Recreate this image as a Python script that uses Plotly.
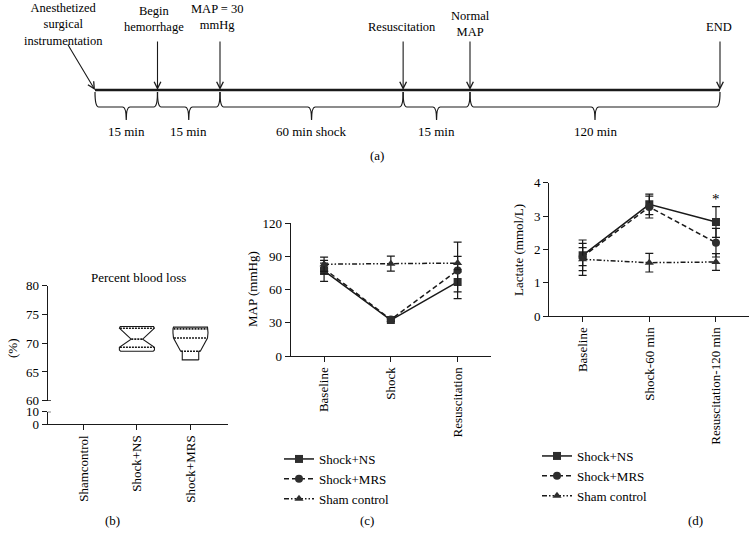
import numpy as np
import plotly.graph_objects as go

# --- data ---
# (a) timeline: schematic positions of the events
EVENTS = ["Anesthetized<br>surgical<br>instrumentation", "Begin<br>hemorrhage", "MAP = 30<br>mmHg",
          "Resuscitation", "Normal<br>MAP", "END"]
EVENT_POS = [0, 1, 2, 4.93, 6, 10]
DURATIONS = ["15 min", "15 min", "60 min shock", "15 min", "120 min"]

# (b) percent blood loss, violin outline (level, relative half width)
GROUPS_B = ["Shamcontrol", "Shock+NS", "Shock+MRS"]
NS_LEVELS = [68.6, 68.8, 69.3, 70.7, 72.6, 72.9]
NS_WIDTH = [0.93, 1.0, 1.0, 0.33, 1.0, 0.95]
NS_QUART = [69.3, 70.7, 72.6]
MRS_LEVELS = [67.1, 68.6, 68.6, 70.9, 71.8, 72.5, 72.8]
MRS_WIDTH = [0.47, 0.47, 0.56, 0.97, 1.0, 1.0, 0.97]
MRS_QUART = [68.6, 70.9, 72.5]

# (c) MAP
MAP_CATS = ["Baseline", "Shock", "Resuscitation"]
MAP_NS = [77, 32.5, 67]
MAP_NS_SD = [9.5, 1.5, 9]
MAP_MRS = [79, 33, 77.4]
MAP_MRS_SD = [5, 1.5, 25.5]
MAP_SHAM = [83, 83.5, 84]
MAP_SHAM_SD = [6.4, 6.8, 6]

# (d) lactate
LAC_CATS = ["Baseline", "Shock-60 min", "Resuscitation-120 min"]
LAC_NS = [1.82, 3.35, 2.82]
LAC_NS_SD = [0.46, 0.31, 0.46]
LAC_MRS = [1.78, 3.27, 2.2]
LAC_MRS_SD = [0.27, 0.33, 0.43]
LAC_SHAM = [1.7, 1.6, 1.62]
LAC_SHAM_SD = [0.48, 0.28, 0.25]

FONT = "Liberation Serif"
INK = "#1a1a1a"
FS = 13
W, H = 751, 538


def px_x(p):
    return p / W


def px_y(p):
    return 1 - p / H


fig = go.Figure()

# ---------- (a) timeline ----------
LINE_Y = 90
fig.add_trace(go.Scatter(x=[EVENT_POS[0], EVENT_POS[-1]], y=[LINE_Y, LINE_Y], mode="lines",
                         line=dict(color=INK, width=2.4), xaxis="x", yaxis="y", showlegend=False,
                         hoverinfo="skip"))

shapes = []
annotations = []
r = 0.06
for i in range(len(EVENT_POS) - 1):
    x0, x1 = EVENT_POS[i], EVENT_POS[i + 1]
    xm = (x0 + x1) / 2
    path = (f"M {x0},92 Q {x0},107 {x0 + r},107 L {xm - r},107 Q {xm},107 {xm},120 "
            f"Q {xm},107 {xm + r},107 L {x1 - r},107 Q {x1},107 {x1},92")
    shapes.append(dict(type="path", path=path, xref="x", yref="y", line=dict(color=INK, width=1.2)))
    annotations.append(dict(x=xm, y=131, xref="x", yref="y", text=DURATIONS[i], showarrow=False,
                            font=dict(size=FS, family=FONT, color="black")))

label_dx = [-0.5, -0.05, -0.05, -0.02, 0.0, -0.02]
label_y = [24, 19, 17, 27, 23.5, 27]
for i, (name, pos) in enumerate(zip(EVENTS, EVENT_POS)):
    annotations.append(dict(x=pos + label_dx[i], y=label_y[i], xref="x", yref="y", text=name,
                            showarrow=False, yanchor="middle",
                            font=dict(size=12.5, family=FONT, color="black")))
    start_x = pos - 0.45 if i == 0 else pos
    start_y = 43 if i == 0 else 40
    annotations.append(dict(x=pos, y=LINE_Y, xref="x", yref="y", ax=start_x, ay=start_y,
                            axref="x", ayref="y", text="", showarrow=True, arrowhead=5,
                            arrowsize=1.2, arrowwidth=1.1, arrowcolor=INK, standoff=0))

# ---------- (b) percent blood loss ----------
HW = 0.327
for g, levels, widths, quart in [(1, NS_LEVELS, NS_WIDTH, NS_QUART),
                                 (2, MRS_LEVELS, MRS_WIDTH, MRS_QUART)]:
    lv = np.array(levels)
    wd = np.array(widths) * HW
    xs = np.concatenate([g + wd, (g - wd)[::-1], [g + wd[0]]])
    ys = np.concatenate([lv, lv[::-1], [lv[0]]])
    fig.add_trace(go.Scatter(x=xs, y=ys, mode="lines", line=dict(color=INK, width=1.1),
                             xaxis="x2", yaxis="y2", showlegend=False, hoverinfo="skip"))
    qx, qy = [], []
    for q in quart:
        w = np.interp(q, lv, wd) * 0.97
        qx += [g - w, g + w, None]
        qy += [q, q, None]
    fig.add_trace(go.Scatter(x=qx, y=qy, mode="lines", line=dict(color=INK, width=1.6, dash="2px,1px"),
                             xaxis="x2", yaxis="y2", showlegend=False, hoverinfo="skip"))
fig.add_trace(go.Scatter(x=[None], y=[None], xaxis="x2", yaxis="y3", showlegend=False))

# axis break caps
shapes.append(dict(type="line", xref="paper", yref="y2", x0=px_x(47.7), x1=px_x(51), y0=60, y1=60,
                   line=dict(color=INK, width=1.3)))
shapes.append(dict(type="line", xref="paper", yref="y3", x0=px_x(47.7), x1=px_x(51), y0=10, y1=10,
                   line=dict(color=INK, width=1.3)))

# ---------- (c) and (d) line charts ----------
STYLES = [("Shock+NS", "square", "solid"),
          ("Shock+MRS", "circle", "5px,3px"),
          ("Sham control", "triangle-up", "5px,2px,1.5px,2px,1.5px,2px")]

for cats, series, xa, ya, leg in [
    (MAP_CATS, [(MAP_NS, MAP_NS_SD), (MAP_MRS, MAP_MRS_SD), (MAP_SHAM, MAP_SHAM_SD)], "x3", "y4", "legend"),
    (LAC_CATS, [(LAC_NS, LAC_NS_SD), (LAC_MRS, LAC_MRS_SD), (LAC_SHAM, LAC_SHAM_SD)], "x4", "y5", "legend2"),
]:
    for (vals, sd), (name, sym, dash) in zip(series, STYLES):
        fig.add_trace(go.Scatter(
            x=cats, y=vals, name=name, mode="lines+markers",
            error_y=dict(type="data", array=sd, color=INK, thickness=1.2, width=4),
            marker=dict(symbol=sym, size=8, color="#2e2e2e"),
            line=dict(color=INK, width=1.5, dash=dash),
            xaxis=xa, yaxis=ya, legend=leg))

annotations.append(dict(x=LAC_CATS[2], y=3.5, xref="x4", yref="y5", text="*", showarrow=False,
                        font=dict(size=15, family=FONT, color="black")))

# axis titles and panel labels
for text, x, y, ang in [("(%)", 12, 348, -90), ("MAP (mmHg)", 252, 289, -90),
                        ("Lactate (mmol/L)", 518, 250, -90), ("Percent blood loss", 138, 277, 0),
                        ("(a)", 377, 155, 0), ("(b)", 112, 520, 0), ("(c)", 367, 520, 0),
                        ("(d)", 695, 520, 0)]:
    annotations.append(dict(x=px_x(x), y=px_y(y), xref="paper", yref="paper", text=text,
                            showarrow=False, textangle=ang, xanchor="center", yanchor="middle",
                            font=dict(size=FS, family=FONT, color="black")))

axis_style = dict(showline=True, linecolor=INK, linewidth=1.3, ticks="outside", ticklen=5,
                  tickcolor=INK, tickwidth=1.3, showgrid=False, zeroline=False,
                  tickfont=dict(size=FS, family=FONT, color="black"))

legend_style = dict(xanchor="left", yanchor="top", bgcolor="rgba(0,0,0,0)", itemwidth=30,
                    font=dict(size=13, family=FONT, color="black"), tracegroupgap=0)

fig.update_layout(
    width=W, height=H, margin=dict(l=0, r=0, t=0, b=0, autoexpand=False),
    font=dict(family=FONT, size=FS, color="black"),
    paper_bgcolor="white", plot_bgcolor="white",
    xaxis=dict(domain=[0, 1], range=[-1.52, 10.496], visible=False, anchor="y"),
    yaxis=dict(domain=[px_y(160), 1], range=[160, 0], visible=False, anchor="x"),
    xaxis2=dict(domain=[px_x(47.7), px_x(228)], range=[-0.665, 2.7], anchor="y3",
                tickvals=[0, 1, 2], ticktext=GROUPS_B, tickangle=-90, **axis_style),
    yaxis2=dict(domain=[px_y(400.7), px_y(285.7)], range=[60, 80], dtick=5, anchor="x2", **axis_style),
    yaxis3=dict(domain=[px_y(424), px_y(411.7)], range=[0, 10], tickvals=[0, 10], anchor="x2", **axis_style),
    xaxis3=dict(domain=[px_x(290.7), px_x(491)], range=[-0.5, 2.5], type="category", anchor="y4",
                tickangle=-90, **axis_style),
    yaxis4=dict(domain=[px_y(356), px_y(223.3)], range=[0, 120], dtick=30, anchor="x3", **axis_style),
    xaxis4=dict(domain=[px_x(549.3), px_x(749.3)], range=[-0.5, 2.5], type="category", anchor="y5",
                tickangle=-90, **axis_style),
    yaxis5=dict(domain=[px_y(316), px_y(182.7)], range=[0, 4], dtick=1, anchor="x4", **axis_style),
    legend=dict(x=px_x(279), y=px_y(444), **legend_style),
    legend2=dict(x=px_x(537), y=px_y(441), **legend_style),
    shapes=shapes,
    annotations=annotations,
)

# drop the browser's default body margin so the figure sits at the page corner
fig.write_html("out.html", config={"displayModeBar": False},
               post_script="document.body.style.margin='0';document.body.style.overflow='hidden';")
